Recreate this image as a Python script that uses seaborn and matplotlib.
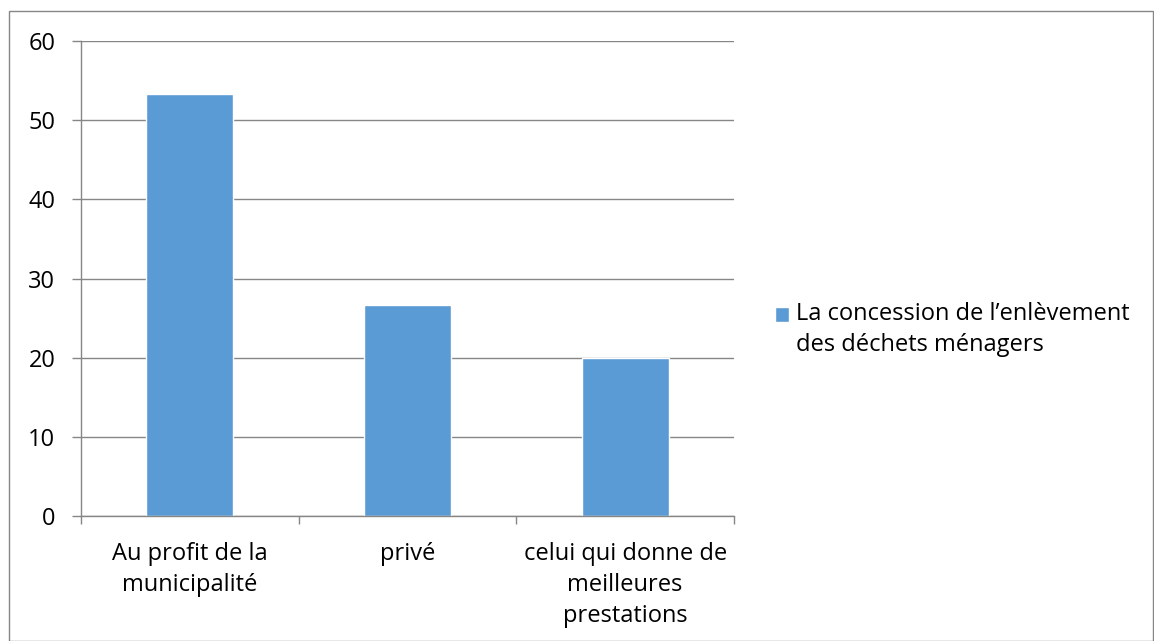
import matplotlib
matplotlib.use("Agg")
import matplotlib.pyplot as plt
import seaborn as sns
import pandas as pd
from matplotlib.patches import Rectangle

categories = ["Au profit de la\nmunicipalité", "privé", "celui qui donne de\nmeilleures\nprestations"]
values = [53.33, 26.67, 20.0]
series_name = "La concession de l\u2019enlèvement\ndes déchets ménagers"
yticks = [0, 10, 20, 30, 40, 50, 60]

sns.set_theme(style="white")
plt.rcParams['font.family'] = ['Open Sans', 'DejaVu Sans']
plt.rcParams['text.color'] = 'black'
plt.rcParams['xtick.color'] = 'black'
plt.rcParams['ytick.color'] = 'black'
FS = 17

W, H = 1154, 641
fig = plt.figure(figsize=(W / 100, H / 100), dpi=100)
ax = fig.add_axes([81 / W, (H - 516) / H, (734 - 81) / W, (516 - 41) / H])

df = pd.DataFrame({"cat": categories, "val": values})
sns.barplot(data=df, x="cat", y="val", color="#5B9BD5", saturation=1, width=0.4,
            label=series_name, ax=ax)

ax.set_ylim(0, 60)
ax.set_xlim(-0.5, 2.5)
ax.set_yticks(yticks)
ax.set_yticklabels([str(t) for t in yticks], fontsize=FS)
ax.tick_params(axis='x', which='major', length=0, pad=19, labelsize=FS, labelcolor='black')
ax.set_xticks([-0.5, 0.5, 1.5, 2.5], minor=True)
ax.tick_params(axis='x', which='minor', length=6, width=1, color="#868686", direction='out', bottom=True)
ax.tick_params(axis='y', length=6.5, width=1, color="#868686", direction='out', left=True, pad=12,
               labelcolor='black')
for lbl in ax.get_xticklabels():
    lbl.set_linespacing(1.38)
ax.set_xlabel("")
ax.set_ylabel("")
ax.yaxis.grid(True, color="#868686", linewidth=1)
ax.set_axisbelow(True)
for s in ["top", "right"]:
    ax.spines[s].set_visible(False)
for s in ["left", "bottom"]:
    ax.spines[s].set_color("#868686")
    ax.spines[s].set_linewidth(1)

leg = ax.legend(loc="upper left", bbox_to_anchor=(775 / W, (H - 302) / H),
                bbox_transform=fig.transFigure, frameon=False, fontsize=FS,
                handlelength=0.6, handleheight=0.6, handletextpad=0.3,
                borderaxespad=0, borderpad=0)
for t in leg.get_texts():
    t.set_linespacing(1.38)
    t.set_color('black')
for h in leg.legend_handles:
    h.set_y(h.get_y() + 11.5)

fig.patches.append(Rectangle((9 / W, 0), (W - 10) / W, (H - 11) / H, transform=fig.transFigure,
                             fill=False, edgecolor="#868686", linewidth=1))

fig.savefig("out.png", dpi=100)
